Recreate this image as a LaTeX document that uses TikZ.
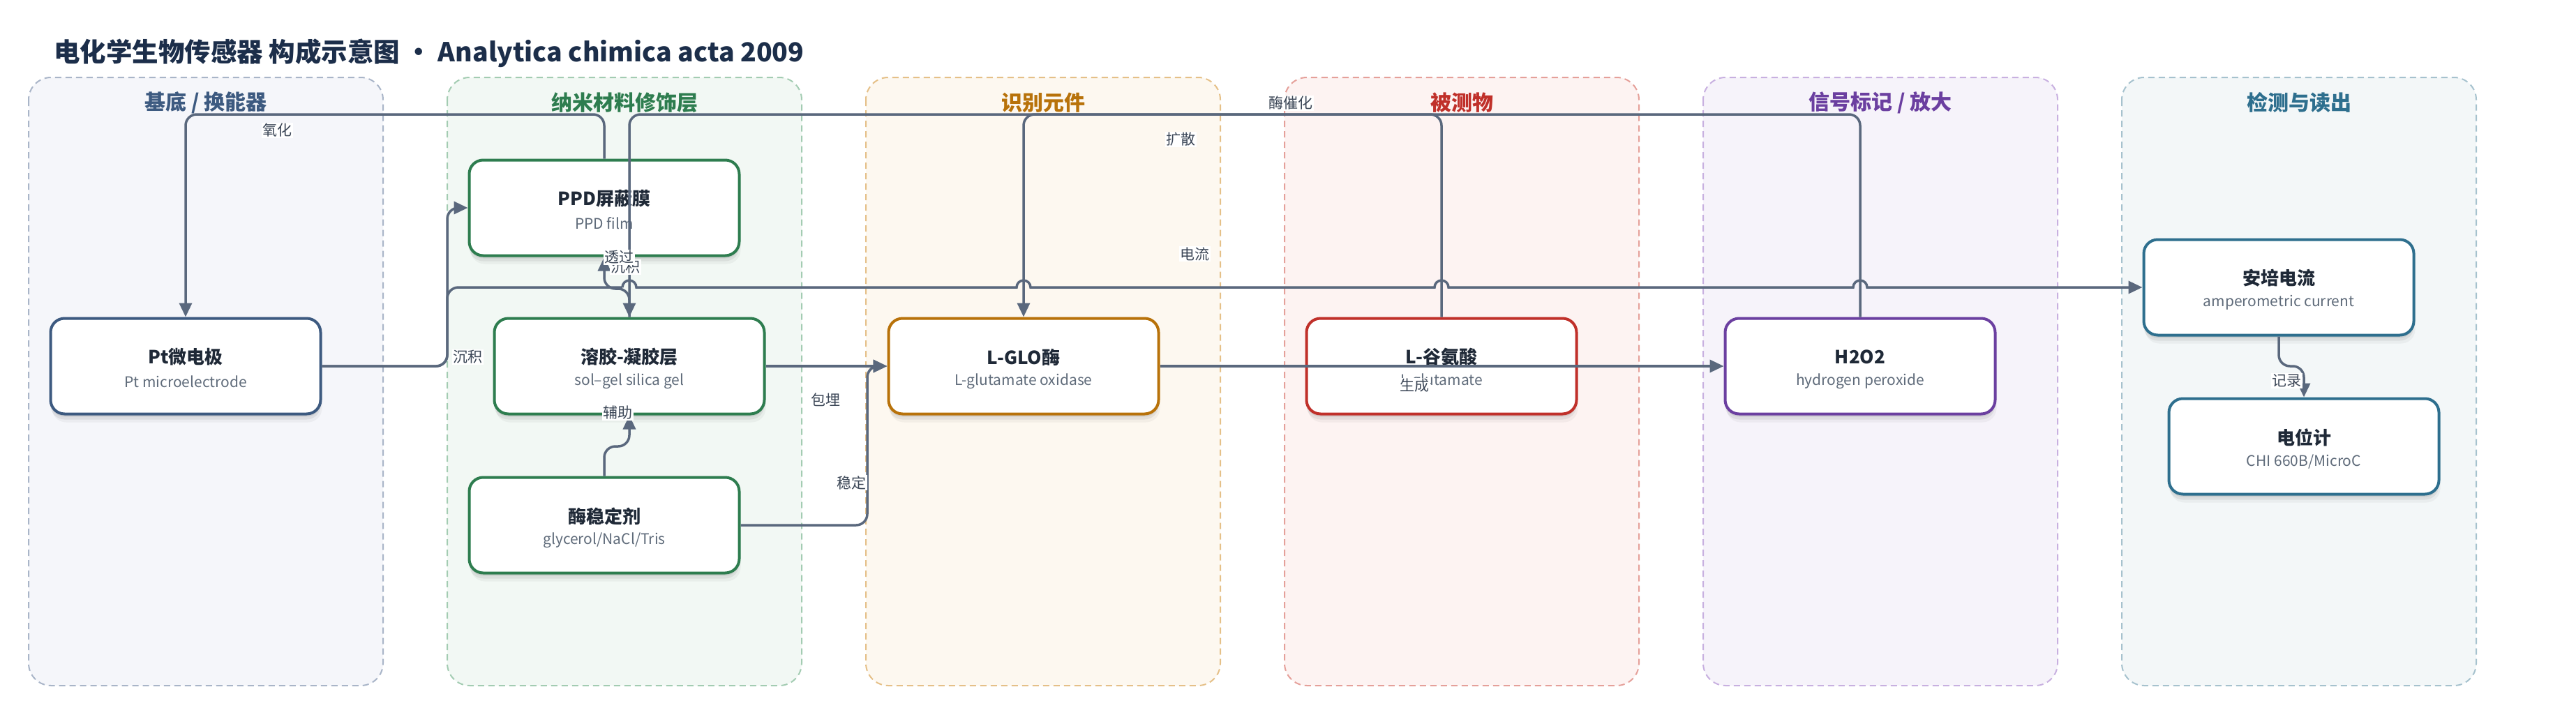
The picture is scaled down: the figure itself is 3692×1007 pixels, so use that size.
\documentclass[tikz,border=0pt]{standalone}
\usepackage{fontspec}
\setmainfont{Noto Sans CJK SC}
\usetikzlibrary{arrows.meta,shadows}
\definecolor{titlec}{HTML}{1C2E4A}
\definecolor{edgec}{HTML}{5A687D}
\definecolor{labc}{HTML}{3B4656}
\definecolor{ntext}{HTML}{1F2937}
\definecolor{subc}{HTML}{5F6B7A}
% lane colours: border, fill, title
\definecolor{laA}{HTML}{A9B5C8}\definecolor{lfA}{HTML}{F5F6FA}\definecolor{ltA}{HTML}{3D5A80}
\definecolor{laB}{HTML}{A3CCB2}\definecolor{lfB}{HTML}{F2F8F4}\definecolor{ltB}{HTML}{2E7D4F}
\definecolor{laC}{HTML}{E5C088}\definecolor{lfC}{HTML}{FDF8F0}\definecolor{ltC}{HTML}{B8720A}
\definecolor{laD}{HTML}{E5A09A}\definecolor{lfD}{HTML}{FDF3F2}\definecolor{ltD}{HTML}{C0302A}
\definecolor{laE}{HTML}{C8B0E0}\definecolor{lfE}{HTML}{F6F3FA}\definecolor{ltE}{HTML}{6B3FA0}
\definecolor{laF}{HTML}{A6C2CE}\definecolor{lfF}{HTML}{F3F7F8}\definecolor{ltF}{HTML}{2E6F8E}
% box node: colour, name, position, title, subtitle
\newcommand{\boxnode}[5]{%
  \node[box=#1] (#2) at (#3) {};
  \node[ntitle] (#2-t) at ([yshift=13pt]#2.center) {#4};
  \node[nsub] (#2-s) at ([yshift=-22pt]#2.center) {#5};
}
\begin{document}
\begin{tikzpicture}[x=1pt,y=-1pt,
  lane/.style 2 args={draw=#1, fill=#2, line width=2pt, dash pattern=on 9pt off 6pt, rounded corners=32pt},
  lanetitle/.style={text=#1, font=\fontsize{30}{34}\selectfont\bfseries, inner sep=0pt},
  nodeshadow/.style={general shadow={shadow yshift=-4pt, fill=black, opacity=.07},
                     general shadow={shadow yshift=-8pt, fill=black, opacity=.06},
                     general shadow={shadow yshift=-12pt, shadow xshift=2pt, fill=black, opacity=.04}},
  box/.style={draw=#1, fill=white, line width=4pt, rounded corners=20pt,
              minimum width=387pt, minimum height=137pt, inner sep=0pt, nodeshadow},
  ntitle/.style={inner sep=0pt, text=ntext, font=\fontsize{26}{30}\selectfont\bfseries},
  nsub/.style={inner sep=0pt, text=subc, font=\fontsize{21}{26}\selectfont},
  edge/.style={draw=edgec, line width=3.5pt, rounded corners=16pt, -{Triangle[length=20pt,width=18pt]}},
  plainedge/.style={draw=edgec, line width=3.5pt, rounded corners=16pt},
  elabel/.style={fill=white, inner sep=1.5pt, text=labc, font=\fontsize{21}{24}\selectfont}
]
\useasboundingbox (0,0) rectangle (3692,1007);
\fill[white] (0,0) rectangle (3692,1007);

% title
\node[anchor=west, text=titlec, font=\fontsize{37.5}{42}\selectfont\bfseries, inner sep=0pt] (title) at (77,76)
  {电化学生物传感器 构成示意图 · Analytica chimica acta 2009};

% lanes
\draw[lane={laA}{lfA}] (41,111) rectangle (549,983);
\draw[lane={laB}{lfB}] (641,111) rectangle (1149,983);
\draw[lane={laC}{lfC}] (1241,111) rectangle (1749,983);
\draw[lane={laD}{lfD}] (1841,111) rectangle (2349,983);
\draw[lane={laE}{lfE}] (2441,111) rectangle (2949,983);
\draw[lane={laF}{lfF}] (3041,111) rectangle (3549,983);
\node[lanetitle=ltA] (tA) at (295,147) {基底 / 换能器};
\node[lanetitle=ltB] (tB) at (895,147) {纳米材料修饰层};
\node[lanetitle=ltC] (tC) at (1495,147) {识别元件};
\node[lanetitle=ltD] (tD) at (2095,147) {被测物};
\node[lanetitle=ltE] (tE) at (2695,147) {信号标记 / 放大};
\node[lanetitle=ltF] (tF) at (3295,147) {检测与读出};

% nodes
\boxnode{ltA}{pt}{266,525}{Pt微电极}{Pt microelectrode}
\boxnode{ltB}{ppd}{866,298}{PPD屏蔽膜}{PPD film}
\boxnode{ltB}{sol}{902,525}{溶胶-凝胶层}{sol–gel silica gel}
\boxnode{ltB}{stab}{866,753}{酶稳定剂}{glycerol/NaCl/Tris}
\boxnode{ltC}{glo}{1467,525}{L-GLO酶}{L-glutamate oxidase}
\boxnode{ltD}{glu}{2066,525}{L-谷氨酸}{L-glutamate}
\boxnode{ltE}{h2o2}{2666,525}{H2O2}{hydrogen peroxide}
\boxnode{ltF}{cur}{3266,412}{安培电流}{amperometric current}
\boxnode{ltF}{pot}{3302,640}{电位计}{CHI 660B/MicroC}

% edges
\draw[edge] (pt.east) -- (641,525) -- (641,298) -- (ppd.west);
\draw[plainedge] (pt.east) -- (641,525) -- (641,412) -- (892,412);
\draw[edge, sharp corners] (892,412) arc[start angle=180, end angle=0, radius=10pt]
  -- (1457,412) arc[start angle=180, end angle=0, radius=10pt]
  -- (2056,412) arc[start angle=180, end angle=0, radius=10pt]
  -- (2656,412) arc[start angle=180, end angle=0, radius=10pt]
  -- (cur.west);
\draw[edge] (ppd.north) -- (866,164) -- (266,164) -- (pt.north);
\draw[edge] (h2o2.north) -- (2666,164) -- (902,164) -- (sol.north);
\draw[edge] (glu.north) -- (2066,164) -- (1467,164) -- (glo.north);
\draw[edge] (sol.north) -- (902,414) -- (866,414) -- (ppd.south);
\draw[edge] (sol.east) -- (glo.west);
\draw[edge] (stab.north) -- (866,640) -- (902,640) -- (sol.south);
\draw[edge] (stab.east) -- (1243,753) -- (1243,525) -- (glo.west);
\draw[edge] (glo.east) -- (h2o2.west);
\draw[edge] (cur.south) -- (3266,525) -- (3302,525) -- (pot.north);

% edge labels
\node[elabel] (lb1) at (670,512) {沉积};
\node[elabel] (lb2) at (397,187) {氧化};
\node[elabel] (lb3) at (896,383) {沉积};
\node[elabel] (lb4) at (887,369) {透过};
\node[elabel] (lb5) at (1692,200) {扩散};
\node[elabel] (lb6) at (1850,148) {酶催化};
\node[elabel] (lb7) at (1712,364) {电流};
\node[elabel] (lb8) at (1183,573) {包埋};
\node[elabel] (lb9) at (1220,692) {稳定};
\node[elabel] (lb10) at (885,592) {辅助};
\node[elabel] (lb11) at (2027,553) {生成};
\node[elabel] (lb12) at (3277,546) {记录};
\end{tikzpicture}
\end{document}
